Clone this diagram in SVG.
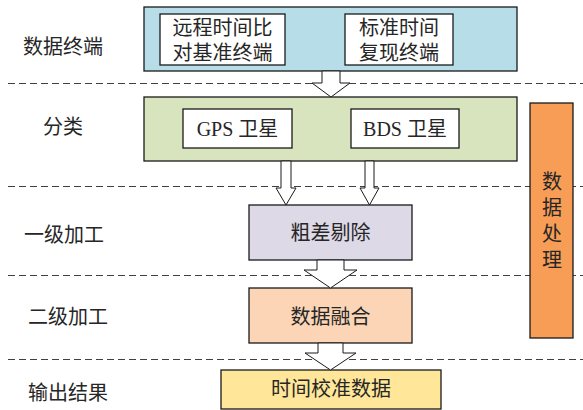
<svg xmlns="http://www.w3.org/2000/svg" width="583" height="410" viewBox="0 0 583 410">
<style>
text{font-family:"Liberation Serif","Noto Sans CJK SC",serif;font-size:20px;fill:#262626;text-anchor:middle}
.dash{stroke:#404040;stroke-width:1;stroke-dasharray:7 4;fill:none}
.box{stroke:#1a1a1a;stroke-width:1.3}
.inner{fill:#fff;stroke:#1a1a1a;stroke-width:1.3}
.arrow{fill:#fff;stroke:#1a1a1a;stroke-width:1}
</style>
<rect width="583" height="410" fill="#fff"/>
<g id="separators">
<line class="dash" x1="8" y1="83.5" x2="583" y2="83.5"/>
<line class="dash" x1="8" y1="186.5" x2="583" y2="186.5"/>
<line class="dash" x1="8" y1="275.5" x2="583" y2="275.5"/>
<line class="dash" x1="8" y1="359.5" x2="583" y2="359.5"/>
</g>
<g id="stage-labels">
<text x="63" y="54">数据终端</text>
<text x="63" y="134">分类</text>
<text x="64" y="242">一级加工</text>
<text x="68" y="324">二级加工</text>
<text x="68" y="400">输出结果</text>
</g>
<g id="terminal">
<rect class="box" x="144" y="7" width="373" height="64" fill="#B7DDE8"/>
<rect class="inner" x="160" y="14" width="125" height="51"/>
<text x="222.5" y="35">远程时间比</text>
<text x="222.5" y="60">对基准终端</text>
<rect class="inner" x="345" y="14" width="108" height="51"/>
<text x="399" y="35">标准时间</text>
<text x="399" y="60">复现终端</text>
</g>
<g id="classify">
<rect class="box" x="144" y="97" width="373" height="64" fill="#D7E4BD"/>
<rect class="inner" x="183" y="109" width="109" height="39"/>
<text x="237.5" y="136" font-size="19">GPS 卫星</text>
<rect class="inner" x="351" y="109" width="108" height="39"/>
<text x="405" y="136" font-size="19">BDS 卫星</text>
</g>
<g id="gross-error">
<rect class="box" x="249" y="205" width="163" height="55" fill="#DDD9E7"/>
<text x="330.5" y="240">粗差剔除</text>
</g>
<g id="fusion">
<rect class="box" x="249" y="288" width="163" height="55" fill="#FBD5B5"/>
<text x="330.5" y="324">数据融合</text>
</g>
<g id="output">
<rect class="box" x="221" y="370" width="220" height="39" fill="#FFE699"/>
<text x="331" y="396">时间校准数据</text>
</g>
<g id="processing">
<rect class="box" x="530" y="103" width="43" height="235" fill="#F79D56"/>
<text x="552" y="189">数</text>
<text x="552" y="215">据</text>
<text x="552" y="241">处</text>
<text x="552" y="267">理</text>
</g>
<g id="connectors">
<path class="arrow" d="M322,71 L340,71 L340,83 L350,83 L331,97 L312,83 L322,83 Z"/>
<path class="arrow" d="M281,161 L291,161 L291,188 L296,188 L286,205 L276,188 L281,188 Z"/>
<path class="arrow" d="M365,161 L374,161 L374,188 L379,188 L369.5,205 L360,188 L365,188 Z"/>
<path class="arrow" d="M317,260 L344,260 L344,270 L357,270 L330.5,288 L304,270 L317,270 Z"/>
<path class="arrow" d="M318,343 L343,343 L343,353 L356,353 L330.5,370 L305,353 L318,353 Z"/>
</g>
</svg>
